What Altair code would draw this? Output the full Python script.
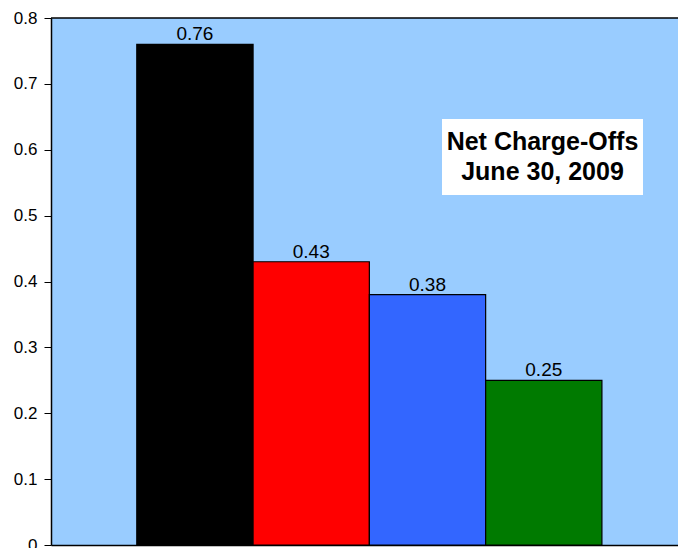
import altair as alt
import pandas as pd

categories = ["A", "B", "C", "D"]
values = [0.76, 0.43, 0.38, 0.25]
colors = ["#000000", "#FF0000", "#3366FF", "#007A00"]
y_ticks = [0, 0.1, 0.2, 0.3, 0.4, 0.5, 0.6, 0.7, 0.8]
annotation_lines = ["Net Charge-Offs", "June 30, 2009"]

df = pd.DataFrame({"cat": categories, "value": values, "color": colors})
df["label"] = [f"{v:.2f}" for v in values]

FONT = "Liberation Sans"

x = alt.X("cat:N", sort=categories,
          axis=alt.Axis(labels=False, ticks=False, title=None, domainColor="black",
                        domainWidth=1.5),
          scale=alt.Scale(paddingInner=0, paddingOuter=0.696, align=0.53))
y = alt.Y("value:Q", scale=alt.Scale(domain=[0, 0.8], nice=False),
          axis=alt.Axis(values=y_ticks, title=None, grid=False, format="~g",
                        labelFont=FONT, labelFontSize=17, labelColor="black",
                        tickColor="black", tickSize=7, labelPadding=7,
                        domainColor="black", domainWidth=1.5))

bars = alt.Chart(df).mark_bar(stroke="black", strokeWidth=1.2, width={"band": 1}).encode(
    x=x, y=y, color=alt.Color("color:N", scale=None)
)

labels = alt.Chart(df).mark_text(font=FONT, fontSize=19, baseline="alphabetic",
                                 dy=-4, color="black").encode(
    x=x, y="value:Q", text="label:N"
)

top_line = alt.Chart(pd.DataFrame({"k": [0]})).mark_rule(color="black", strokeWidth=1.5).encode(
    y=alt.datum(0.8)
)

box = alt.Chart(pd.DataFrame({"k": [0]})).mark_rect(color="white").encode(
    x=alt.value(391), x2=alt.value(592), y=alt.value(101), y2=alt.value(177)
)

note = alt.Chart(pd.DataFrame({"t": [annotation_lines]})).mark_text(
    font=FONT, fontSize=25, fontWeight="bold", color="black",
    baseline="alphabetic", lineHeight=30, align="center"
).encode(x=alt.value(491.5), y=alt.value(132), text="t")

chart = alt.layer(bars, labels, top_line, box, note).properties(
    width=627, height=527,
    padding={"left": 51, "top": 18, "right": 0, "bottom": 3},
    autosize="none",
    background="white",
).configure_view(fill="#99CCFF", stroke=None)

chart.save("out.html", embed_options={"renderer": "svg", "actions": False})
